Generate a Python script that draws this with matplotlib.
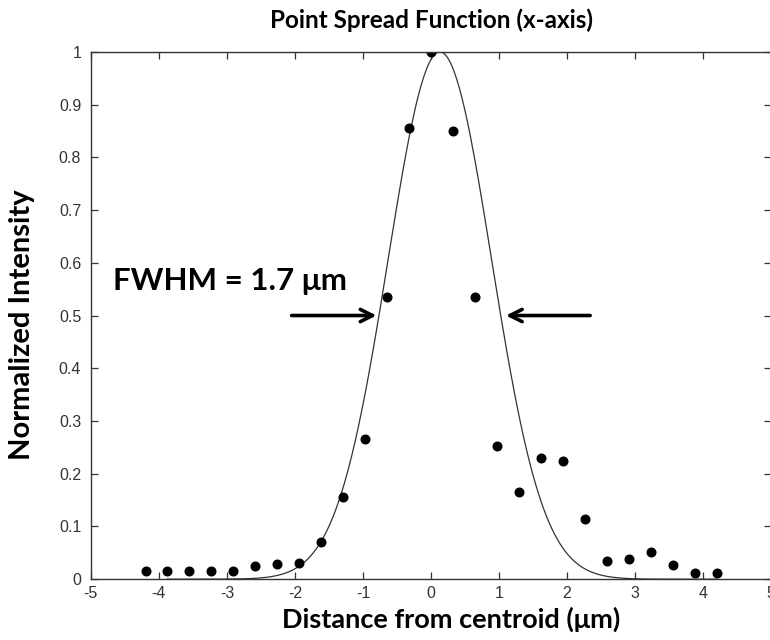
#!/usr/bin/env python3
"""Point spread function along x: measured samples and Gaussian fit."""
import numpy as np
import matplotlib
matplotlib.use("Agg")
import matplotlib.pyplot as plt

# measured samples (distance from centroid in um, normalized intensity)
sample_x = [-4.19, -3.88, -3.56, -3.24, -2.91, -2.59, -2.26, -1.94, -1.62,
            -1.29, -0.97, -0.65, -0.32, 0.0, 0.32, 0.65, 0.97, 1.29, 1.62,
            1.94, 2.26, 2.59, 2.91, 3.24, 3.56, 3.88, 4.21]
sample_y = [0.015, 0.015, 0.015, 0.015, 0.015, 0.025, 0.028, 0.030, 0.070,
            0.155, 0.265, 0.535, 0.855, 1.000, 0.850, 0.535, 0.252, 0.165,
            0.230, 0.224, 0.114, 0.034, 0.038, 0.051, 0.027, 0.011, 0.011]

# gaussian fit parameters
fit_center = 0.13
fit_fwhm = 1.79
fit_range = (-3.88, 4.21)

x_ticks = [-5, -4, -3, -2, -1, 0, 1, 2, 3, 4, 5]
y_ticks = [0, 0.1, 0.2, 0.3, 0.4, 0.5, 0.6, 0.7, 0.8, 0.9, 1]
y_tick_labels = ["0", "0.1", "0.2", "0.3", "0.4", "0.5", "0.6", "0.7", "0.8", "0.9", "1"]

BOLD = ["Lato", "DejaVu Sans"]
TICK = ["Liberation Sans", "DejaVu Sans"]

plt.rcParams["axes.unicode_minus"] = False

fig = plt.figure(figsize=(7.7, 6.4), dpi=100)
ax = fig.add_axes([0.118, 0.095, 0.8835, 0.824])

sigma = fit_fwhm / (2 * np.sqrt(2 * np.log(2)))
xs = np.linspace(fit_range[0], fit_range[1], 400)
ax.plot(xs, np.exp(-(xs - fit_center) ** 2 / (2 * sigma ** 2)),
        color="#333333", lw=0.9)
ax.plot(sample_x, sample_y, "o", color="black", markersize=6.2)

arrow = dict(arrowstyle="->", lw=2.6, color="black", mutation_scale=22)
ax.annotate("", xy=(-0.76, 0.5), xytext=(-2.09, 0.5), arrowprops=arrow)
ax.annotate("", xy=(1.06, 0.5), xytext=(2.38, 0.5), arrowprops=arrow)
ax.text(-4.67, 0.566, "FWHM = 1.7 μm", fontsize=22.5, fontweight="bold",
        family=BOLD, ha="left", va="center")

ax.set_xlim(-5, 5)
ax.set_ylim(0, 1)
ax.set_xticks(x_ticks)
ax.set_yticks(y_ticks)
ax.set_yticklabels(y_tick_labels)
ax.tick_params(direction="in", length=5, width=0.9, top=True, right=True,
               labelsize=11.5, color="#333333", labelcolor="#333333")
ax.tick_params(axis="x", pad=5)
ax.tick_params(axis="y", pad=7)
for lab in ax.get_xticklabels() + ax.get_yticklabels():
    lab.set_family(TICK)
for s in ax.spines.values():
    s.set_color("#333333")
    s.set_linewidth(1.0)

ax.set_title("Point Spread Function (x-axis)", fontsize=17.5, fontweight="bold",
             family=BOLD, pad=17)
ax.set_xlabel("Distance from centroid (μm)", fontsize=19.5, fontweight="bold",
              family=BOLD, labelpad=4)
ax.xaxis.label.set_x(0.529)
ax.set_ylabel("Normalized Intensity", fontsize=21, fontweight="bold",
              family=BOLD, labelpad=17)
ax.yaxis.label.set_y(0.482)

fig.savefig("out.png", dpi=100)
